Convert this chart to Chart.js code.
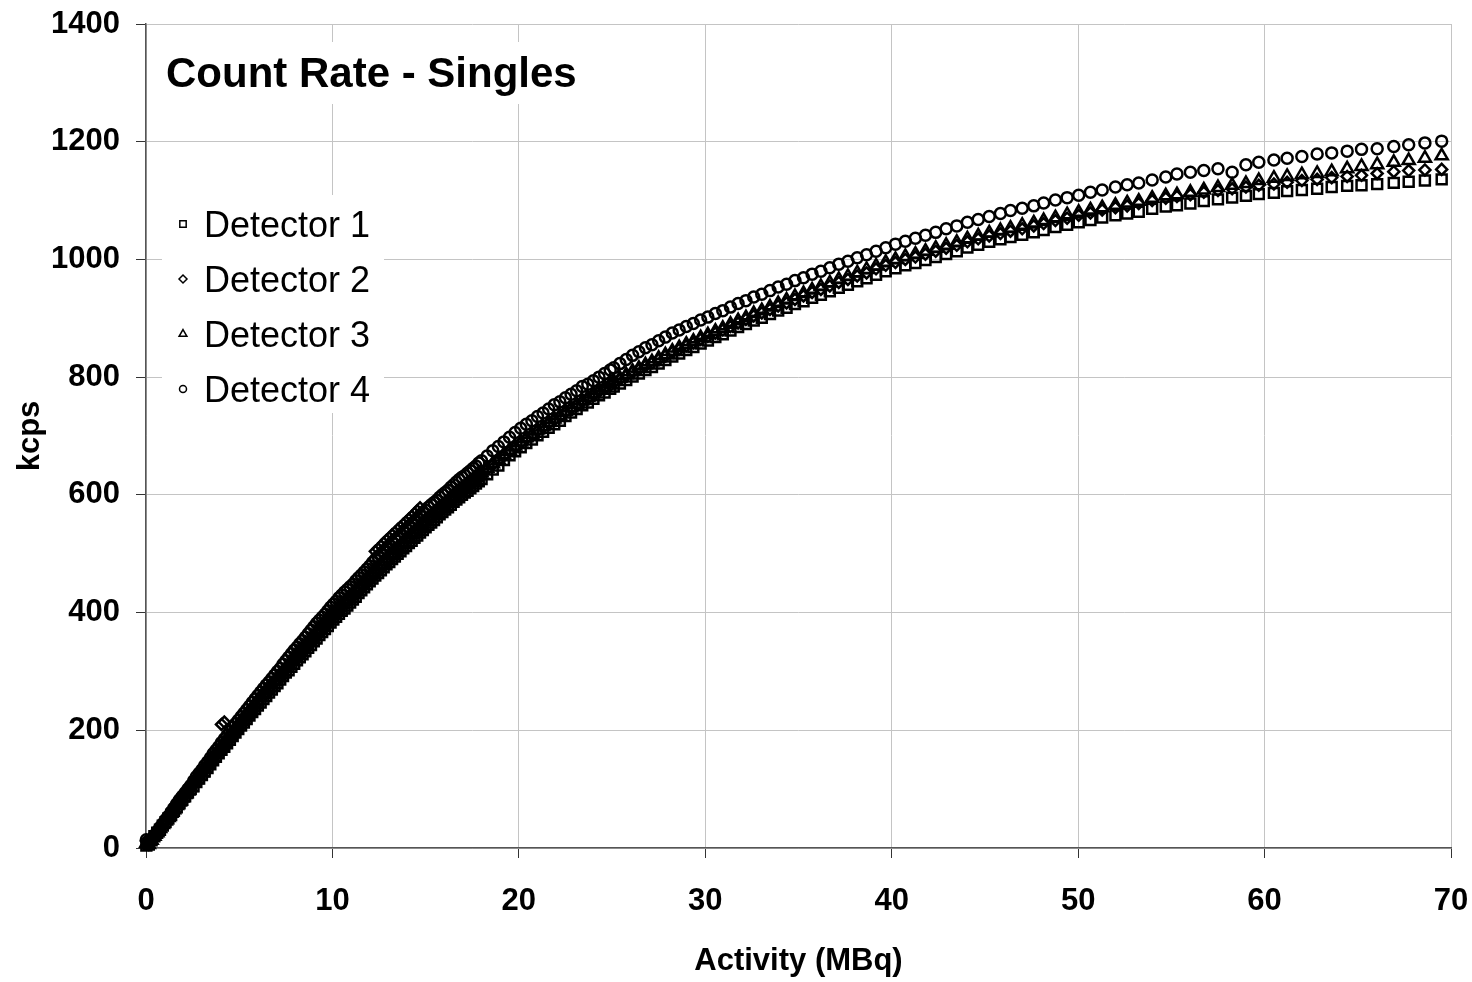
<!DOCTYPE html>
<html>
<head>
<meta charset="utf-8">
<script src="https://cdn.jsdelivr.net/npm/chart.js@4.4.0/dist/chart.umd.min.js"></script>
<style>
  html, body { margin: 0; padding: 0; background: #fff; }
  canvas { display: block; }
</style>
</head>
<body>
<canvas id="chart" width="1472" height="982"></canvas>
<script>
const chartTitle = 'Count Rate - Singles';
const xAxisTitle = 'Activity (MBq)';
const yAxisTitle = 'kcps';
const seriesNames = ['Detector 1', 'Detector 2', 'Detector 3', 'Detector 4'];
const xTicks = [0, 10, 20, 30, 40, 50, 60, 70];
const yTicks = [0, 200, 400, 600, 800, 1000, 1200, 1400];

// activity (MBq) shared by all detectors
const activity = [0.02,
  0.15, 0.3, 0.45, 0.6, 0.75, 0.9, 1.05, 1.2, 1.35, 1.5,
  1.65, 1.8, 1.95, 2.1, 2.25, 2.4, 2.55, 2.7, 2.85, 3.0,
  3.15, 3.3, 3.45, 3.6, 3.75, 3.9, 4.05, 4.2, 4.35, 4.5,
  4.65, 4.8, 4.95, 5.1, 5.25, 5.4, 5.55, 5.7, 5.85, 6.0,
  6.15, 6.3, 6.45, 6.6, 6.75, 6.9, 7.05, 7.2, 7.35, 7.5,
  7.65, 7.8, 7.95, 8.1, 8.25, 8.4, 8.55, 8.7, 8.85, 9.0,
  9.15, 9.3, 9.45, 9.6, 9.75, 9.9, 10.05, 10.2, 10.35, 10.5,
  10.65, 10.8, 10.95, 11.1, 11.25, 11.4, 11.55, 11.7, 11.85, 12.0,
  12.15, 12.3, 12.45, 12.6, 12.75, 12.9, 13.05, 13.2, 13.35, 13.5,
  13.65, 13.8, 13.95, 14.1, 14.25, 14.4, 14.55, 14.7, 14.85, 15.0,
  15.15, 15.3, 15.45, 15.6, 15.75, 15.9, 16.05, 16.2, 16.35, 16.5,
  16.65, 16.8, 16.95, 17.1, 17.25, 17.4, 17.55, 17.7, 17.85, 18.0,
  18.3, 18.6, 18.9, 19.2, 19.5, 19.8, 20.1, 20.4, 20.7, 21.0,
  21.3, 21.6, 21.9, 22.2, 22.5, 22.8, 23.1, 23.4, 23.7, 24.0,
  24.3, 24.6, 24.9,
  25.09, 25.42, 25.76, 26.10, 26.44, 26.79, 27.14, 27.50, 27.86, 28.23,
  28.60, 28.98, 29.36, 29.75, 30.14, 30.54, 30.94, 31.35, 31.76, 32.18,
  32.60, 33.03, 33.47, 33.91, 34.36, 34.81, 35.27, 35.73, 36.20, 36.68,
  37.16, 37.65, 38.15, 38.65, 39.16, 39.68, 40.20, 40.73, 41.27, 41.81,
  42.36, 42.92, 43.49, 44.06, 44.64, 45.23,
  45.83, 46.37, 47.00, 47.62, 48.15, 48.78, 49.41, 50.03, 50.66, 51.29,
  52.00, 52.63, 53.25, 53.97, 54.70, 55.30, 56.02, 56.74, 57.50, 58.26,
  59.00, 59.69, 60.50, 61.21, 62.00, 62.82, 63.60, 64.43, 65.20, 66.04,
  66.93, 67.73, 68.60, 69.50];

// kcps
const detector1 = [4,
  6, 13, 20, 26, 31, 38, 44, 50, 56, 63,
  69, 76, 82, 88, 94, 100, 105, 112, 118, 124,
  130, 136, 142, 149, 155, 161, 167, 172, 178, 184,
  190, 196, 202, 208, 213, 219, 225, 231, 236, 242,
  247, 253, 258, 264, 269, 275, 280, 286, 292, 298,
  302, 308, 313, 319, 324, 329, 334, 340, 345, 351,
  356, 362, 367, 372, 377, 383, 388, 393, 398, 403,
  407, 412, 417, 422, 427, 433, 438, 443, 448, 453,
  458, 463, 467, 472, 477, 482, 486, 491, 495, 500,
  504, 509, 513, 518, 522, 527, 531, 536, 540, 545,
  549, 553, 557, 562, 567, 571, 575, 579, 583, 588,
  592, 596, 600, 604, 607, 611, 615, 619, 623, 627,
  635, 643, 650, 659, 667, 674, 681, 688, 694, 701,
  707, 714, 720, 726, 734, 740, 746, 752, 757, 763,
  769, 774, 780,
  784, 789, 795, 801, 806, 812, 817, 823, 829, 835,
  840, 846, 851, 857, 862, 868, 873, 879, 885, 890,
  896, 901, 907, 913, 918, 924, 929, 935, 940, 946,
  952, 957, 963, 968, 974, 980, 985, 990, 994, 999,
  1004, 1009, 1014, 1020, 1025, 1030,
  1034, 1038, 1042, 1046, 1050, 1055, 1059, 1063, 1067, 1071,
  1075, 1078, 1081, 1086, 1090, 1092, 1095, 1099, 1102, 1105,
  1108, 1111, 1113, 1116, 1118, 1120, 1123, 1125, 1126, 1128,
  1130, 1132, 1134, 1136];

const detector2 = [12,
  6, 13, 20, 26, 33, 40, 46, 52, 58, 65,
  71, 78, 84, 90, 96, 102, 109, 116, 122, 128,
  134, 140, 146, 153, 159, 166, 210, 214, 184, 190,
  196, 202, 208, 214, 219, 225, 231, 237, 242, 248,
  253, 259, 265, 271, 276, 282, 287, 293, 299, 305,
  310, 316, 321, 327, 332, 337, 342, 348, 354, 360,
  365, 371, 376, 381, 386, 392, 397, 402, 407, 412,
  416, 421, 426, 431, 436, 441, 446, 451, 456, 461,
  466, 504, 508, 513, 518, 523, 527, 532, 536, 541,
  545, 550, 554, 559, 563, 568, 573, 578, 549, 553,
  558, 562, 566, 571, 575, 579, 583, 587, 591, 596,
  600, 604, 608, 612, 615, 619, 623, 627, 631, 635,
  643, 651, 658, 666, 674, 681, 688, 695, 701, 708,
  714, 721, 727, 733, 740, 746, 752, 758, 763, 769,
  775, 780, 786,
  790, 796, 802, 808, 813, 819, 824, 830, 836, 842,
  847, 853, 858, 864, 869, 875, 880, 886, 892, 898,
  904, 909, 915, 921, 926, 932, 938, 944, 949, 955,
  961, 966, 972, 977, 984, 990, 995, 1000, 1004, 1009,
  1014, 1019, 1024, 1030, 1035, 1040,
  1044, 1048, 1052, 1057, 1061, 1066, 1070, 1075, 1079, 1084,
  1088, 1091, 1095, 1100, 1104, 1107, 1110, 1114, 1117, 1120,
  1123, 1126, 1128, 1131, 1134, 1136, 1139, 1141, 1143, 1146,
  1149, 1151, 1152, 1153];

const detector3 = [8,
  6, 13, 20, 26, 33, 40, 46, 52, 59, 65,
  72, 78, 85, 91, 97, 103, 110, 116, 122, 128,
  135, 141, 148, 154, 160, 166, 172, 178, 185, 191,
  197, 203, 209, 215, 221, 226, 232, 238, 244, 250,
  256, 261, 267, 272, 278, 283, 289, 294, 300, 306,
  312, 318, 324, 329, 334, 339, 345, 350, 356, 361,
  367, 372, 378, 383, 389, 394, 399, 404, 409, 414,
  419, 423, 428, 433, 438, 443, 448, 453, 458, 463,
  468, 473, 478, 482, 487, 492, 497, 501, 506, 510,
  515, 519, 524, 528, 533, 537, 542, 547, 551, 555,
  560, 564, 569, 573, 577, 581, 585, 589, 594, 598,
  602, 606, 610, 614, 618, 621, 625, 629, 633, 637,
  645, 653, 660, 668, 676, 683, 690, 697, 703, 710,
  716, 723, 729, 735, 742, 748, 754, 760, 766, 772,
  778, 783, 789,
  793, 798, 804, 810, 815, 821, 826, 832, 838, 844,
  850, 856, 861, 867, 872, 878, 883, 890, 896, 901,
  908, 913, 919, 925, 931, 937, 942, 948, 954, 960,
  966, 971, 977, 983, 989, 995, 1000, 1005, 1009, 1014,
  1019, 1024, 1029, 1035, 1040, 1045,
  1049, 1053, 1058, 1062, 1066, 1071, 1076, 1080, 1084, 1088,
  1092, 1096, 1099, 1104, 1108, 1110, 1114, 1118, 1122, 1126,
  1129, 1134, 1138, 1141, 1144, 1146, 1149, 1154, 1158, 1161,
  1165, 1168, 1172, 1176];

const detector4 = [14,
  8, 14, 21, 28, 35, 41, 48, 54, 61, 68,
  75, 82, 88, 94, 100, 106, 114, 121, 127, 133,
  140, 146, 153, 160, 166, 172, 179, 185, 191, 198,
  205, 211, 217, 223, 229, 235, 241, 247, 253, 259,
  265, 271, 277, 282, 288, 294, 300, 305, 312, 318,
  324, 330, 336, 341, 347, 352, 358, 364, 370, 376,
  382, 387, 392, 397, 403, 409, 414, 419, 425, 430,
  435, 439, 444, 448, 454, 459, 464, 469, 474, 479,
  485, 490, 495, 499, 504, 509, 514, 519, 524, 527,
  532, 537, 542, 546, 551, 555, 560, 565, 570, 574,
  579, 583, 587, 591, 596, 600, 604, 608, 613, 617,
  622, 626, 630, 633, 637, 641, 645, 649, 654, 658,
  666, 675, 682, 690, 698, 706, 713, 720, 726, 733,
  739, 746, 753, 758, 765, 771, 777, 784, 788, 794,
  800, 806, 812,
  816, 823, 830, 837, 843, 850, 855, 862, 868, 875,
  880, 886, 891, 897, 902, 908, 913, 919, 925, 930,
  936, 941, 947, 953, 958, 964, 969, 975, 980, 986,
  992, 997, 1003, 1008, 1014, 1020, 1026, 1031, 1036, 1041,
  1046, 1052, 1057, 1063, 1068, 1073,
  1078, 1083, 1087, 1091, 1096, 1101, 1105, 1109, 1114, 1118,
  1123, 1127, 1130, 1135, 1140, 1145, 1148, 1151, 1154, 1148,
  1161, 1165, 1169, 1172, 1175, 1179, 1181, 1184, 1187, 1188,
  1192, 1195, 1198, 1201];

const FONT = '"Liberation Sans", Arial, Helvetica, sans-serif';
const markerStyles = ['rect', 'rectRot', 'triangle', 'circle'];
const markerRadius = [7, 5.5, 7, 5.5];
const legendRadius = [4.5, 4, 4.5, 3.5];

const series = [detector1, detector2, detector3, detector4];

const datasets = series.map((vals, i) => ({
  label: seriesNames[i],
  data: activity.map((x, j) => ({ x: x, y: vals[j] })),
  pointStyle: markerStyles[i],
  pointRadius: markerRadius[i],
  pointBorderWidth: 2.5,
  pointBorderColor: '#000',
  pointBackgroundColor: 'rgba(0,0,0,0)',
  showLine: false,
  clip: false
}));

// title and legend sit inside the plot on white boxes
const insetText = {
  id: 'insetText',
  beforeDatasetsDraw(chart) {
    const ctx = chart.ctx;
    ctx.save();
    ctx.fillStyle = '#fff';
    ctx.fillRect(152, 42, 440, 62);
    ctx.fillRect(162, 195, 222, 218);

    ctx.fillStyle = '#000';
    ctx.textBaseline = 'alphabetic';
    ctx.font = 'bold 42px ' + FONT;
    ctx.fillText(chartTitle, 166, 87);

    ctx.font = '36px ' + FONT;
    seriesNames.forEach((name, i) => {
      const y = 224 + i * 55;
      ctx.strokeStyle = '#000';
      ctx.lineWidth = 1.5;
      ctx.fillStyle = 'rgba(0,0,0,0)';
      Chart.helpers.drawPoint(ctx, {
        pointStyle: markerStyles[i],
        radius: legendRadius[i],
        borderWidth: 1.5,
        rotation: 0
      }, 183, y);
      ctx.fillStyle = '#000';
      ctx.fillText(name, 204, y + 13);
    });
    ctx.restore();
  }
};

const tickFont = { family: FONT, size: 31, weight: 'bold' };

new Chart(document.getElementById('chart'), {
  type: 'scatter',
  data: { datasets: datasets },
  options: {
    responsive: false,
    animation: false,
    layout: { padding: { top: 24, right: 21, bottom: 0, left: 0 } },
    plugins: {
      legend: { display: false },
      tooltip: { enabled: false },
      title: { display: false }
    },
    scales: {
      x: {
        type: 'linear',
        min: 0,
        max: 70,
        afterBuildTicks: s => { s.ticks = xTicks.map(v => ({ value: v })); },
        afterFit: s => { s.height = 134; s.paddingLeft = 0; s.paddingRight = 0; },
        ticks: { color: '#000', font: tickFont, padding: 25, maxRotation: 0, callback: v => String(v) },
        grid: { color: '#c4c4c4', lineWidth: 1, tickColor: '#333', tickLength: 10 },
        border: { color: '#555', width: 1.5 },
        title: {
          display: true,
          text: xAxisTitle,
          color: '#000',
          font: tickFont,
          padding: { top: 0, bottom: 2 }
        }
      },
      y: {
        type: 'linear',
        min: 0,
        max: 1400,
        afterBuildTicks: s => { s.ticks = yTicks.map(v => ({ value: v })); },
        afterFit: s => { s.width = 146; s.paddingTop = 0; s.paddingBottom = 0; },
        ticks: { color: '#000', font: tickFont, padding: 16, callback: v => String(v) },
        grid: { color: '#c4c4c4', lineWidth: 1, tickColor: '#333', tickLength: 10 },
        border: { color: '#555', width: 1.5 },
        title: {
          display: true,
          text: yAxisTitle,
          color: '#000',
          font: tickFont,
          padding: { top: 12, bottom: 0 }
        }
      }
    }
  },
  plugins: [insetText]
});
</script>
</body>
</html>
